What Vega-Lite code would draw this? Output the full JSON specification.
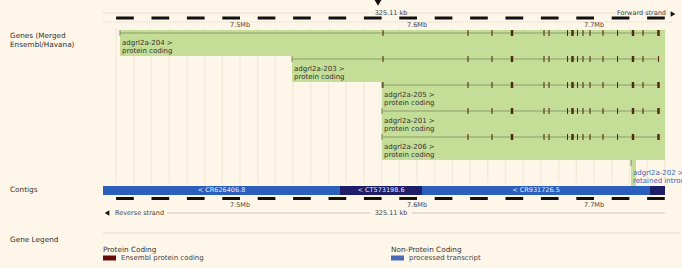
{
"$schema": "https://vega.github.io/schema/vega-lite/v6.json",
"width": 682, "height": 268, "autosize": {"type": "none"}, "padding": 0,
"background": "#fdf6e9",
"config": {"view": {"stroke": null}, "text": {"font": "DejaVu Sans", "fontSize": 7, "baseline": "middle", "align": "left", "color": "#333333"}},
"datasets": {
"grid10kb": [{"pos":7.43},{"pos":7.44},{"pos":7.45},{"pos":7.46},{"pos":7.47},{"pos":7.48},{"pos":7.49},{"pos":7.50},{"pos":7.51},{"pos":7.52},{"pos":7.53},{"pos":7.54},{"pos":7.55},{"pos":7.56},{"pos":7.57},{"pos":7.58},{"pos":7.59},{"pos":7.60},{"pos":7.61},{"pos":7.62},{"pos":7.63},{"pos":7.64},{"pos":7.65},{"pos":7.66},{"pos":7.67},{"pos":7.68},{"pos":7.69},{"pos":7.70},{"pos":7.71},{"pos":7.72},{"pos":7.73},{"pos":7.74}],
"dashes": [{"s":7.43,"e":7.44},{"s":7.45,"e":7.46},{"s":7.47,"e":7.48},{"s":7.49,"e":7.50},{"s":7.51,"e":7.52},{"s":7.53,"e":7.54},{"s":7.55,"e":7.56},{"s":7.57,"e":7.58},{"s":7.59,"e":7.60},{"s":7.61,"e":7.62},{"s":7.63,"e":7.64},{"s":7.65,"e":7.66},{"s":7.67,"e":7.68},{"s":7.69,"e":7.70},{"s":7.71,"e":7.72},{"s":7.73,"e":7.74}],
"rulerLabels": [{"pos":7.5,"label":"7.5Mb"},{"pos":7.6,"label":"7.6Mb"},{"pos":7.7,"label":"7.7Mb"}],
"transcripts": [
{"id":"adgrl2a-204 >","biotype":"protein coding","lane":1,"s":7.4322,"e":7.737,"he":7.74011},
{"id":"adgrl2a-203 >","biotype":"protein coding","lane":2,"s":7.52938,"e":7.737,"he":7.74011},
{"id":"adgrl2a-205 >","biotype":"protein coding","lane":3,"s":7.58023,"e":7.737,"he":7.74011},
{"id":"adgrl2a-201 >","biotype":"protein coding","lane":4,"s":7.58023,"e":7.737,"he":7.74011},
{"id":"adgrl2a-206 >","biotype":"protein coding","lane":5,"s":7.58023,"e":7.737,"he":7.74011},
{"id":"adgrl2a-202 >","biotype":"retained intron","lane":6,"s":7.7209,"e":7.7212,"he":7.72373}
],
"exons": [
{"lane":1,"s":7.58049,"e":7.58109},{"lane":1,"s":7.62851,"e":7.62911},{"lane":1,"s":7.64207,"e":7.64267},{"lane":1,"s":7.65297,"e":7.65437},{"lane":1,"s":7.67145,"e":7.67205},{"lane":1,"s":7.67428,"e":7.67488},{"lane":1,"s":7.68473,"e":7.68533},{"lane":1,"s":7.68715,"e":7.68855},{"lane":1,"s":7.69038,"e":7.69098},{"lane":1,"s":7.69349,"e":7.69409},{"lane":1,"s":7.69744,"e":7.69804},{"lane":1,"s":7.70478,"e":7.70538},{"lane":1,"s":7.71298,"e":7.71358},{"lane":1,"s":7.72133,"e":7.72273},{"lane":1,"s":7.72738,"e":7.72798},{"lane":1,"s":7.73574,"e":7.73714},
{"lane":2,"s":7.58049,"e":7.58109},{"lane":2,"s":7.62851,"e":7.62911},{"lane":2,"s":7.64207,"e":7.64267},{"lane":2,"s":7.65297,"e":7.65437},{"lane":2,"s":7.67145,"e":7.67205},{"lane":2,"s":7.67428,"e":7.67488},{"lane":2,"s":7.68473,"e":7.68533},{"lane":2,"s":7.68715,"e":7.68855},{"lane":2,"s":7.69038,"e":7.69098},{"lane":2,"s":7.69349,"e":7.69409},{"lane":2,"s":7.69744,"e":7.69804},{"lane":2,"s":7.70478,"e":7.70538},{"lane":2,"s":7.71298,"e":7.71358},{"lane":2,"s":7.72133,"e":7.72273},{"lane":2,"s":7.72738,"e":7.72798},{"lane":2,"s":7.73614,"e":7.73674},
{"lane":3,"s":7.58049,"e":7.58109},{"lane":3,"s":7.62851,"e":7.62911},{"lane":3,"s":7.64207,"e":7.64267},{"lane":3,"s":7.65297,"e":7.65437},{"lane":3,"s":7.67145,"e":7.67205},{"lane":3,"s":7.67428,"e":7.67488},{"lane":3,"s":7.68473,"e":7.68533},{"lane":3,"s":7.68715,"e":7.68855},{"lane":3,"s":7.69038,"e":7.69098},{"lane":3,"s":7.69349,"e":7.69409},{"lane":3,"s":7.69744,"e":7.69804},{"lane":3,"s":7.70478,"e":7.70538},{"lane":3,"s":7.71298,"e":7.71358},{"lane":3,"s":7.72133,"e":7.72273},{"lane":3,"s":7.72738,"e":7.72798},{"lane":3,"s":7.73574,"e":7.73714},
{"lane":4,"s":7.62851,"e":7.62911},{"lane":4,"s":7.64207,"e":7.64267},{"lane":4,"s":7.65297,"e":7.65437},{"lane":4,"s":7.67145,"e":7.67205},{"lane":4,"s":7.67428,"e":7.67488},{"lane":4,"s":7.68473,"e":7.68533},{"lane":4,"s":7.68715,"e":7.68855},{"lane":4,"s":7.69038,"e":7.69098},{"lane":4,"s":7.69349,"e":7.69409},{"lane":4,"s":7.69744,"e":7.69804},{"lane":4,"s":7.70478,"e":7.70538},{"lane":4,"s":7.71298,"e":7.71358},{"lane":4,"s":7.72133,"e":7.72273},{"lane":4,"s":7.72738,"e":7.72798},{"lane":4,"s":7.73574,"e":7.73714},
{"lane":5,"s":7.62851,"e":7.62911},{"lane":5,"s":7.64207,"e":7.64267},{"lane":5,"s":7.65297,"e":7.65437},{"lane":5,"s":7.67145,"e":7.67205},{"lane":5,"s":7.67428,"e":7.67488},{"lane":5,"s":7.68473,"e":7.68533},{"lane":5,"s":7.68715,"e":7.68855},{"lane":5,"s":7.69038,"e":7.69098},{"lane":5,"s":7.69349,"e":7.69409},{"lane":5,"s":7.69744,"e":7.69804},{"lane":5,"s":7.70478,"e":7.70538},{"lane":5,"s":7.71298,"e":7.71358},{"lane":5,"s":7.72133,"e":7.72273},{"lane":5,"s":7.73574,"e":7.73714}
],
"contigs": [
{"name":"< CR626406.8","s":7.4226,"e":7.5565,"pos":7.48955,"shade":"mid"},
{"name":"< CT573198.6","s":7.5565,"e":7.60282,"pos":7.57966,"shade":"dark"},
{"name":"< CR931726.5","s":7.60282,"e":7.73164,"pos":7.66723,"shade":"mid"},
{"name":"","s":7.73164,"e":7.74011,"pos":7.73588,"shade":"dark"}
]
},
"layer": [
{"data":{"name":"grid10kb"},"mark":{"type":"rule","color":"#f4eada","strokeWidth":1.5},
 "encoding":{"x":{"field":"pos","type":"quantitative","scale":{"domain":[7.364407,7.749718],"nice":false,"zero":false},"axis":null},
 "y":{"datum":0.807692,"type":"quantitative","scale":{"domain":[-0.269231,10.038462],"reverse":true,"nice":false,"zero":false},"axis":null},"y2":{"datum":6.769231}}},
{"data":{"values":[{"s":7.4226,"e":7.74463}]},"mark":{"type":"rule","color":"#d9d0c0","strokeWidth":1,"strokeDash":[1,1]},
 "encoding":{"x":{"field":"s","type":"quantitative"},"x2":{"field":"e"},"y":{"datum":0.230769,"type":"quantitative"}}},
{"data":{"values":[{"s":7.4226,"e":7.74463}]},"mark":{"type":"rule","color":"#ddd5c6","strokeWidth":1,"strokeDash":[1,1]},
 "encoding":{"x":{"field":"s","type":"quantitative"},"x2":{"field":"e"},"y":{"datum":0.576923,"type":"quantitative"}}},
{"data":{"name":"dashes"},"mark":{"type":"rect","color":"#111111"},
 "encoding":{"x":{"field":"s","type":"quantitative"},"x2":{"field":"e"},"y":{"datum":0.365385,"type":"quantitative"},"y2":{"datum":0.480769}}},
{"data":{"name":"dashes"},"mark":{"type":"rect","color":"#111111"},
 "encoding":{"x":{"field":"s","type":"quantitative"},"x2":{"field":"e"},"y":{"datum":7.307692,"type":"quantitative"},"y2":{"datum":7.423077}}},
{"data":{"name":"rulerLabels"},"mark":{"type":"text","align":"center","fontSize":6.5,"color":"#444444"},
 "encoding":{"x":{"field":"pos","type":"quantitative"},"y":{"datum":0.692308,"type":"quantitative"},"text":{"field":"label"}}},
{"data":{"name":"rulerLabels"},"mark":{"type":"text","align":"center","fontSize":6.5,"color":"#444444"},
 "encoding":{"x":{"field":"pos","type":"quantitative"},"y":{"datum":7.615385,"type":"quantitative"},"text":{"field":"label"}}},
{"data":{"values":[{"label":"325.11 kb"}]},"mark":{"type":"text","align":"center","fontSize":6.5,"color":"#444444"},
 "encoding":{"x":{"datum":7.58531,"type":"quantitative"},"y":{"datum":0.230769,"type":"quantitative"},"text":{"field":"label"}}},
{"data":{"values":[{"label":"Forward strand"}]},"mark":{"type":"text","align":"right","fontSize":6.5,"color":"#444444"},
 "encoding":{"x":{"datum":7.74068,"type":"quantitative"},"y":{"datum":0.230769,"type":"quantitative"},"text":{"field":"label"}}},
{"data":{"values":[{"label":"forward"}]},"mark":{"type":"point","shape":"triangle-right","filled":true,"color":"#111111","size":28,"opacity":1},
 "encoding":{"x":{"datum":7.74463,"type":"quantitative"},"y":{"datum":0.269231,"type":"quantitative"}}},
{"data":{"values":[{"label":"position"}]},"mark":{"type":"point","shape":"triangle-down","filled":true,"color":"#111111","size":60,"opacity":1},
 "encoding":{"x":{"datum":7.57797,"type":"quantitative"},"y":{"datum":-0.173077,"type":"quantitative"}}},
{"data":{"values":[{"s":7.45876,"e":7.57345},{"s":7.59718,"e":7.74011}]},"mark":{"type":"rule","color":"#cfc6b6","strokeWidth":1},
 "encoding":{"x":{"field":"s","type":"quantitative"},"x2":{"field":"e"},"y":{"datum":7.923077,"type":"quantitative"}}},
{"data":{"values":[{"label":"Reverse strand"}]},"mark":{"type":"text","fontSize":6.5,"color":"#444444"},
 "encoding":{"x":{"datum":7.42938,"type":"quantitative"},"y":{"datum":7.923077,"type":"quantitative"},"text":{"field":"label"}}},
{"data":{"values":[{"label":"325.11 kb"}]},"mark":{"type":"text","align":"center","fontSize":6.5,"color":"#444444"},
 "encoding":{"x":{"datum":7.58531,"type":"quantitative"},"y":{"datum":7.923077,"type":"quantitative"},"text":{"field":"label"}}},
{"data":{"values":[{"label":"reverse"}]},"mark":{"type":"point","shape":"triangle-left","filled":true,"color":"#111111","size":28,"opacity":1},
 "encoding":{"x":{"datum":7.42486,"type":"quantitative"},"y":{"datum":7.923077,"type":"quantitative"}}},
{"data":{"name":"transcripts"},"mark":{"type":"rect","color":"#c5de97","yOffset":-3,"y2Offset":23},
 "encoding":{"x":{"field":"s","type":"quantitative"},"x2":{"field":"he"},"y":{"field":"lane","type":"quantitative"},"y2":{"field":"lane"}}},
{"data":{"name":"transcripts"},"transform":[{"filter":"datum.lane < 6"}],"mark":{"type":"rule","color":"#8e9c68","strokeWidth":1},
 "encoding":{"x":{"field":"s","type":"quantitative"},"x2":{"field":"e"},"y":{"field":"lane","type":"quantitative"}}},
{"data":{"name":"transcripts"},"mark":{"type":"rule","color":"#7b875a","strokeWidth":1,"yOffset":-3,"y2Offset":3},
 "encoding":{"x":{"field":"s","type":"quantitative"},"y":{"field":"lane","type":"quantitative"},"y2":{"field":"lane"}}},
{"data":{"name":"exons"},"mark":{"type":"rect","color":"#4e2a0e","yOffset":-3,"y2Offset":3},
 "encoding":{"x":{"field":"s","type":"quantitative"},"x2":{"field":"e"},"y":{"field":"lane","type":"quantitative"},"y2":{"field":"lane"}}},
{"data":{"name":"transcripts"},"transform":[{"filter":"datum.lane < 6"}],"mark":{"type":"text","dx":2,"yOffset":10,"color":"#333333"},
 "encoding":{"x":{"field":"s","type":"quantitative"},"y":{"field":"lane","type":"quantitative"},"text":{"field":"id"}}},
{"data":{"name":"transcripts"},"transform":[{"filter":"datum.lane < 6"}],"mark":{"type":"text","dx":2,"yOffset":18,"color":"#333333"},
 "encoding":{"x":{"field":"s","type":"quantitative"},"y":{"field":"lane","type":"quantitative"},"text":{"field":"biotype"}}},
{"data":{"name":"transcripts"},"transform":[{"filter":"datum.lane == 6"}],"mark":{"type":"text","dx":2,"yOffset":10,"color":"#4462b8"},
 "encoding":{"x":{"field":"s","type":"quantitative"},"y":{"field":"lane","type":"quantitative"},"text":{"field":"id"}}},
{"data":{"name":"transcripts"},"transform":[{"filter":"datum.lane == 6"}],"mark":{"type":"text","dx":2,"yOffset":18,"color":"#4462b8"},
 "encoding":{"x":{"field":"s","type":"quantitative"},"y":{"field":"lane","type":"quantitative"},"text":{"field":"biotype"}}},
{"data":{"name":"contigs"},"mark":{"type":"rect"},
 "encoding":{"x":{"field":"s","type":"quantitative"},"x2":{"field":"e"},"y":{"datum":6.884615,"type":"quantitative"},"y2":{"datum":7.230769},
 "color":{"field":"shade","type":"nominal","scale":{"domain":["mid","dark"],"range":["#2b5fbe","#1d1d68"]},"legend":null}}},
{"data":{"name":"contigs"},"mark":{"type":"text","align":"center","fontSize":6.5,"color":"#e6edff"},
 "encoding":{"x":{"field":"pos","type":"quantitative"},"y":{"datum":7.057692,"type":"quantitative"},"text":{"field":"name"}}},
{"data":{"values":[{"s":7.4226,"e":7.74859}]},"mark":{"type":"rule","color":"#e4dac8","strokeWidth":1},
 "encoding":{"x":{"field":"s","type":"quantitative"},"x2":{"field":"e"},"y":{"datum":8.692308,"type":"quantitative"}}},
{"data":{"values":[{"label":"Genes (Merged"}]},"mark":{"type":"text","fontSize":7.3,"color":"#333333"},
 "encoding":{"x":{"datum":7.37006,"type":"quantitative"},"y":{"datum":1.115385,"type":"quantitative"},"text":{"field":"label"}}},
{"data":{"values":[{"label":"Ensembl/Havana)"}]},"mark":{"type":"text","fontSize":7.3,"color":"#333333"},
 "encoding":{"x":{"datum":7.37006,"type":"quantitative"},"y":{"datum":1.461538,"type":"quantitative"},"text":{"field":"label"}}},
{"data":{"values":[{"label":"Contigs"}]},"mark":{"type":"text","fontSize":7.3,"color":"#333333"},
 "encoding":{"x":{"datum":7.37006,"type":"quantitative"},"y":{"datum":7.038462,"type":"quantitative"},"text":{"field":"label"}}},
{"data":{"values":[{"label":"Gene Legend"}]},"mark":{"type":"text","fontSize":7.3,"color":"#333333"},
 "encoding":{"x":{"datum":7.37006,"type":"quantitative"},"y":{"datum":8.961538,"type":"quantitative"},"text":{"field":"label"}}},
{"data":{"values":[{"label":"Protein Coding"}]},"mark":{"type":"text","fontSize":7.3,"color":"#333333"},
 "encoding":{"x":{"datum":7.4226,"type":"quantitative"},"y":{"datum":9.346154,"type":"quantitative"},"text":{"field":"label"}}},
{"data":{"values":[{"label":"Non-Protein Coding"}]},"mark":{"type":"text","fontSize":7.3,"color":"#333333"},
 "encoding":{"x":{"datum":7.58531,"type":"quantitative"},"y":{"datum":9.346154,"type":"quantitative"},"text":{"field":"label"}}},
{"data":{"values":[{"s":7.4226,"e":7.42994}]},"mark":{"type":"rect","color":"#6a0b0b"},
 "encoding":{"x":{"field":"s","type":"quantitative"},"x2":{"field":"e"},"y":{"datum":9.557692,"type":"quantitative"},"y2":{"datum":9.75}}},
{"data":{"values":[{"s":7.58531,"e":7.59266}]},"mark":{"type":"rect","color":"#4a6bbb"},
 "encoding":{"x":{"field":"s","type":"quantitative"},"x2":{"field":"e"},"y":{"datum":9.557692,"type":"quantitative"},"y2":{"datum":9.75}}},
{"data":{"values":[{"label":"Ensembl protein coding"}]},"mark":{"type":"text","fontSize":7,"color":"#444444"},
 "encoding":{"x":{"datum":7.43277,"type":"quantitative"},"y":{"datum":9.653846,"type":"quantitative"},"text":{"field":"label"}}},
{"data":{"values":[{"label":"processed transcript"}]},"mark":{"type":"text","fontSize":7,"color":"#444444"},
 "encoding":{"x":{"datum":7.59548,"type":"quantitative"},"y":{"datum":9.653846,"type":"quantitative"},"text":{"field":"label"}}}
]
}
